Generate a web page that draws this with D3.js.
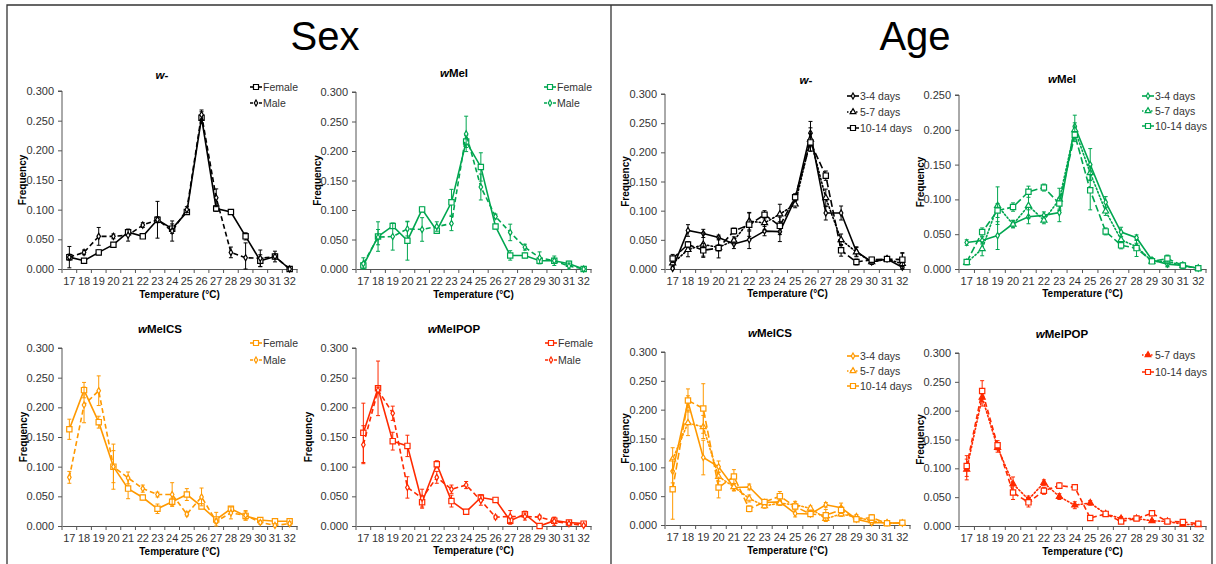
<!DOCTYPE html>
<html>
<head>
<meta charset="utf-8">
<script src="https://cdn.jsdelivr.net/npm/d3@7"></script>
<style>
  body { margin: 0; background: #fff; }
  svg { display: block; font-family: "Liberation Sans", Arial, sans-serif; }
</style>
</head>
<body>
<svg id="chart" width="1216" height="564"></svg>
<script>
// categories
const temps = [17, 18, 19, 20, 21, 22, 23, 24, 25, 26, 27, 28, 29, 30, 31, 32];

// Sex - w-
const sexWFemale = [0.020, 0.014, 0.028, 0.041, 0.062, 0.055, 0.083, 0.068, 0.096, 0.255, 0.102, 0.096, 0.055, 0.014, 0.021, 0.000];
const sexWFemaleErr = [0.018, 0.002, 0.004, 0.003, 0.005, 0.003, 0.031, 0.008, 0.004, 0.010, 0.005, 0.004, 0.006, 0.010, 0.004, 0];
const sexWMale = [0.020, 0.028, 0.055, 0.055, 0.057, 0.074, 0.083, 0.064, 0.100, 0.260, 0.120, 0.028, 0.019, 0.018, 0.021, 0.000];
const sexWMaleErr = [0.005, 0.004, 0.015, 0.004, 0.010, 0.004, 0.005, 0.017, 0.005, 0.008, 0.015, 0.009, 0.025, 0.014, 0.009, 0];

// Sex - wMel
const sexMelFemale = [0.006, 0.055, 0.073, 0.048, 0.101, 0.065, 0.113, 0.216, 0.173, 0.072, 0.023, 0.023, 0.014, 0.014, 0.009, 0.000];
const sexMelFemaleErr = [0.005, 0.025, 0.004, 0.033, 0.004, 0.004, 0.022, 0.010, 0.024, 0.004, 0.008, 0.004, 0.005, 0.004, 0.004, 0];
const sexMelMale = [0.009, 0.054, 0.055, 0.068, 0.067, 0.072, 0.077, 0.229, 0.139, 0.089, 0.062, 0.037, 0.019, 0.014, 0.005, 0.000];
const sexMelMaleErr = [0.010, 0.013, 0.023, 0.012, 0.020, 0.008, 0.012, 0.030, 0.022, 0.004, 0.014, 0.005, 0.010, 0.008, 0.005, 0];

// Sex - wMelCS
const sexCSFemale = [0.163, 0.229, 0.175, 0.100, 0.063, 0.048, 0.029, 0.041, 0.053, 0.033, 0.011, 0.029, 0.017, 0.010, 0.008, 0.008];
const sexCSFemaleErr = [0.017, 0.013, 0.010, 0.038, 0.017, 0.004, 0.008, 0.006, 0.010, 0.004, 0.012, 0.004, 0.007, 0.003, 0.003, 0.003];
const sexCSMale = [0.082, 0.204, 0.228, 0.100, 0.081, 0.063, 0.053, 0.053, 0.020, 0.049, 0.008, 0.022, 0.018, 0.006, 0.001, 0.004];
const sexCSMaleErr = [0.010, 0.030, 0.025, 0.027, 0.010, 0.006, 0.004, 0.020, 0.003, 0.015, 0.004, 0.010, 0.008, 0.003, 0.002, 0.003];

// Sex - wMelPOP
const sexPOPFemale = [0.157, 0.232, 0.143, 0.135, 0.040, 0.104, 0.042, 0.024, 0.048, 0.044, 0.009, 0.020, 0.000, 0.009, 0.006, 0.004];
const sexPOPFemaleErr = [0.050, 0.046, 0.015, 0.018, 0.010, 0.006, 0.010, 0.004, 0.005, 0.004, 0.006, 0.005, 0, 0.005, 0.003, 0.003];
const sexPOPMale = [0.137, 0.229, 0.190, 0.065, 0.047, 0.082, 0.062, 0.069, 0.043, 0.015, 0.016, 0.016, 0.015, 0.008, 0.004, 0.001];
const sexPOPMaleErr = [0.032, 0.005, 0.012, 0.018, 0.015, 0.010, 0.007, 0.006, 0.008, 0.003, 0.010, 0.006, 0.003, 0.007, 0.002, 0.001];

// Age - w-
const ageW34 = [0.001, 0.066, 0.061, 0.054, 0.043, 0.050, 0.065, 0.064, 0.120, 0.233, 0.096, 0.096, 0.030, 0.012, 0.017, 0.003];
const ageW34Err = [0.002, 0.010, 0.007, 0.004, 0.008, 0.015, 0.008, 0.017, 0.008, 0.020, 0.012, 0.012, 0.008, 0.004, 0.003, 0.003];
const ageW57 = [0.010, 0.033, 0.042, 0.037, 0.049, 0.082, 0.079, 0.094, 0.111, 0.222, 0.122, 0.050, 0.029, 0.012, 0.017, 0.009];
const ageW57Err = [0.005, 0.012, 0.020, 0.018, 0.006, 0.015, 0.012, 0.017, 0.006, 0.020, 0.015, 0.010, 0.008, 0.004, 0.003, 0.018];
const ageW1014 = [0.018, 0.042, 0.032, 0.036, 0.065, 0.076, 0.093, 0.074, 0.123, 0.217, 0.160, 0.032, 0.012, 0.016, 0.017, 0.016];
const ageW1014Err = [0.007, 0.005, 0.012, 0.005, 0.005, 0.020, 0.007, 0.015, 0.006, 0.015, 0.008, 0.010, 0.005, 0.004, 0.003, 0.012];

// Age - wMel
const ageMel34 = [0.038, 0.041, 0.048, 0.065, 0.075, 0.077, 0.081, 0.205, 0.150, 0.096, 0.053, 0.045, 0.013, 0.007, 0.005, 0.001];
const ageMel34Err = [0.004, 0.005, 0.020, 0.005, 0.010, 0.005, 0.013, 0.016, 0.023, 0.008, 0.007, 0.004, 0.003, 0.003, 0.003, 0.001];
const ageMel57 = [0.009, 0.029, 0.091, 0.064, 0.091, 0.070, 0.100, 0.200, 0.138, 0.083, 0.042, 0.032, 0.011, 0.011, 0.005, 0.001];
const ageMel57Err = [0.003, 0.010, 0.027, 0.005, 0.018, 0.005, 0.016, 0.010, 0.010, 0.006, 0.005, 0.005, 0.003, 0.008, 0.004, 0.001];
const ageMel1014 = [0.010, 0.053, 0.084, 0.089, 0.111, 0.117, 0.094, 0.193, 0.113, 0.054, 0.034, 0.030, 0.011, 0.015, 0.005, 0.001];
const ageMel1014Err = [0.003, 0.006, 0.010, 0.006, 0.008, 0.005, 0.008, 0.010, 0.028, 0.005, 0.005, 0.012, 0.003, 0.005, 0.003, 0.001];

// Age - wMelCS
const ageCS34 = [0.093, 0.214, 0.117, 0.101, 0.065, 0.066, 0.039, 0.040, 0.020, 0.019, 0.035, 0.030, 0.010, 0.004, 0.004, 0.003];
const ageCS34Err = [0.020, 0.010, 0.030, 0.010, 0.006, 0.005, 0.004, 0.005, 0.006, 0.004, 0.004, 0.008, 0.004, 0.003, 0.003, 0.002];
const ageCS57 = [0.114, 0.177, 0.170, 0.084, 0.066, 0.046, 0.033, 0.038, 0.035, 0.029, 0.011, 0.019, 0.014, 0.007, 0.003, 0.003];
const ageCS57Err = [0.020, 0.022, 0.020, 0.008, 0.006, 0.006, 0.004, 0.004, 0.006, 0.004, 0.005, 0.004, 0.004, 0.003, 0.003, 0.002];
const ageCS1014 = [0.062, 0.216, 0.202, 0.065, 0.084, 0.028, 0.040, 0.050, 0.032, 0.019, 0.017, 0.026, 0.010, 0.013, 0.003, 0.004];
const ageCS1014Err = [0.052, 0.020, 0.043, 0.018, 0.012, 0.005, 0.004, 0.008, 0.004, 0.004, 0.010, 0.006, 0.004, 0.005, 0.002, 0.002];

// Age - wMelPOP
const agePOP57 = [0.098, 0.223, 0.136, 0.073, 0.046, 0.075, 0.051, 0.036, 0.040, 0.021, 0.013, 0.013, 0.009, 0.008, 0.003, 0.002];
const agePOP57Err = [0.018, 0.015, 0.008, 0.012, 0.006, 0.005, 0.005, 0.006, 0.004, 0.003, 0.003, 0.003, 0.002, 0.002, 0.002, 0.001];
const agePOP1014 = [0.104, 0.234, 0.140, 0.058, 0.041, 0.061, 0.070, 0.067, 0.014, 0.021, 0.008, 0.013, 0.022, 0.008, 0.007, 0.004];
const agePOP1014Err = [0.018, 0.018, 0.008, 0.012, 0.008, 0.006, 0.005, 0.004, 0.003, 0.003, 0.003, 0.003, 0.003, 0.002, 0.002, 0.002];

const BLACK = "#000000", GREEN = "#00a650", ORANGE = "#ff9900", RED = "#ff2a00";

const STYLE = {
  solid: null,
  dashed: "5,3",
  dotted: "1.5,2.2",
  longdash: "7,3"
};

function sexSeries(color, f, fe, m, me) {
  return [
    { name: "Female", values: f, err: fe, color, dash: "solid", marker: "square" },
    { name: "Male", values: m, err: me, color, dash: "dashed", marker: "diamond" }
  ];
}

const panels = [
  { title: ["w", "-"], x0: 62, x1: 297, top: 91, bottom: 269, yMax: 0.3, titleX: 162, titleY: 79, ylabX: 22, legX: 250, legY: 87, legStep: 16, xTitleY: 298,
    series: sexSeries(BLACK, sexWFemale, sexWFemaleErr, sexWMale, sexWMaleErr) },
  { title: ["w", "Mel"], x0: 356, x1: 591, top: 92, bottom: 269, yMax: 0.3, titleX: 454, titleY: 77, ylabX: 317, legX: 544, legY: 87, legStep: 16, xTitleY: 298,
    series: sexSeries(GREEN, sexMelFemale, sexMelFemaleErr, sexMelMale, sexMelMaleErr) },
  { title: ["w", "MelCS"], x0: 62, x1: 297, top: 348, bottom: 526, yMax: 0.3, titleX: 160, titleY: 333, ylabX: 23, legX: 250, legY: 343, legStep: 17, xTitleY: 555,
    series: sexSeries(ORANGE, sexCSFemale, sexCSFemaleErr, sexCSMale, sexCSMaleErr) },
  { title: ["w", "MelPOP"], x0: 356, x1: 591, top: 348, bottom: 526, yMax: 0.3, titleX: 454, titleY: 333, ylabX: 308, legX: 545, legY: 343, legStep: 17, xTitleY: 554,
    series: sexSeries(RED, sexPOPFemale, sexPOPFemaleErr, sexPOPMale, sexPOPMaleErr) },
  { title: ["w", "-"], x0: 665, x1: 910, top: 94, bottom: 269, yMax: 0.3, titleX: 806, titleY: 84, ylabX: 625, legX: 847, legY: 96, legStep: 16, xTitleY: 297,
    series: [
      { name: "3-4 days", values: ageW34, err: ageW34Err, color: BLACK, dash: "solid", marker: "diamond" },
      { name: "5-7 days", values: ageW57, err: ageW57Err, color: BLACK, dash: "dotted", marker: "triangle" },
      { name: "10-14 days", values: ageW1014, err: ageW1014Err, color: BLACK, dash: "longdash", marker: "square" }
    ] },
  { title: ["w", "Mel"], x0: 959, x1: 1206, top: 95, bottom: 269, yMax: 0.25, titleX: 1062, titleY: 83, ylabX: 920, legX: 1142, legY: 96, legStep: 15, xTitleY: 297,
    series: [
      { name: "3-4 days", values: ageMel34, err: ageMel34Err, color: GREEN, dash: "solid", marker: "diamond" },
      { name: "5-7 days", values: ageMel57, err: ageMel57Err, color: GREEN, dash: "dotted", marker: "triangle" },
      { name: "10-14 days", values: ageMel1014, err: ageMel1014Err, color: GREEN, dash: "longdash", marker: "square" }
    ] },
  { title: ["w", "MelCS"], x0: 665, x1: 910, top: 352, bottom: 525, yMax: 0.3, titleX: 770, titleY: 337, ylabX: 625, legX: 847, legY: 356, legStep: 15, xTitleY: 554,
    series: [
      { name: "3-4 days", values: ageCS34, err: ageCS34Err, color: ORANGE, dash: "solid", marker: "diamond" },
      { name: "5-7 days", values: ageCS57, err: ageCS57Err, color: ORANGE, dash: "dotted", marker: "triangle" },
      { name: "10-14 days", values: ageCS1014, err: ageCS1014Err, color: ORANGE, dash: "longdash", marker: "square" }
    ] },
  { title: ["w", "MelPOP"], x0: 959, x1: 1206, top: 353, bottom: 526, yMax: 0.3, titleX: 1062, titleY: 338, ylabX: 920, legX: 1142, legY: 355, legStep: 17, xTitleY: 555,
    series: [
      { name: "5-7 days", values: agePOP57, err: agePOP57Err, color: RED, dash: "dotted", marker: "triangle", filled: true },
      { name: "10-14 days", values: agePOP1014, err: agePOP1014Err, color: RED, dash: "dashed", marker: "square" }
    ] }
];

const svg = d3.select("#chart");

// frame
const frame = svg.append("g").attr("stroke", "#333").attr("stroke-width", 1.3).attr("fill", "none");
frame.append("path").attr("d", "M7,564 V5 H1212 V564");
frame.append("line").attr("x1", 611).attr("x2", 611).attr("y1", 5).attr("y2", 564);

svg.append("text").attr("x", 325).attr("y", 50).attr("text-anchor", "middle")
  .attr("font-size", 40).text("Sex");
svg.append("text").attr("x", 915).attr("y", 50).attr("text-anchor", "middle")
  .attr("font-size", 40).text("Age");

const symbolType = { square: d3.symbolSquare, diamond: d3.symbolDiamond, triangle: d3.symbolTriangle };
const symbolSize = { square: 28, diamond: 11, triangle: 16 };

function drawMarker(g, s, x, y, scale = 1) {
  g.append("path")
    .attr("d", d3.symbol(symbolType[s.marker], symbolSize[s.marker] * scale)())
    .attr("transform", `translate(${x},${y})`)
    .attr("fill", s.filled ? s.color : "#fff")
    .attr("stroke", s.color)
    .attr("stroke-width", 1.2);
}

panels.forEach(p => {
  const g = svg.append("g");
  const x = d3.scaleBand().domain(temps).range([p.x0, p.x1]).padding(0);
  const y = d3.scaleLinear().domain([0, p.yMax]).range([p.bottom, p.top]);
  const cx = t => x(t) + x.bandwidth() / 2;

  // y axis
  const yAxis = g.append("g").attr("transform", `translate(${p.x0},0)`)
    .call(d3.axisLeft(y).tickValues(d3.range(0, p.yMax + 0.001, 0.05)).tickFormat(d3.format(".3f")).tickSize(4).tickPadding(4));
  yAxis.select(".domain").attr("d", `M-4,${p.top}H0V${p.bottom}`);

  // x axis, ticks between categories
  const xAxis = g.append("g").attr("transform", `translate(0,${p.bottom})`)
    .call(d3.axisBottom(x).tickSize(0).tickPadding(8));
  xAxis.selectAll(".tick text").attr("dy", "0.71em");
  temps.concat([null]).forEach(t => {
    const xx = t === null ? p.x1 : x(t);
    xAxis.append("line").attr("x1", xx).attr("x2", xx).attr("y1", 0).attr("y2", 4).attr("stroke", "#555");
  });
  [yAxis, xAxis].forEach(a => {
    a.selectAll(".domain").attr("stroke", "#555");
    a.selectAll(".tick line").attr("stroke", "#555");
    a.selectAll("text").attr("fill", "#333").attr("font-size", 11).attr("font-family", "Liberation Sans, Arial, sans-serif");
  });

  // titles
  const tt = g.append("text").attr("x", p.titleX).attr("y", p.titleY).attr("text-anchor", "middle")
    .attr("font-size", 11.5).attr("font-weight", "bold");
  tt.append("tspan").attr("font-style", "italic").text(p.title[0]);
  tt.append("tspan").text(p.title[1]);

  g.append("text").attr("transform", `translate(${p.ylabX},${(p.top + p.bottom) / 2}) rotate(-90)`)
    .attr("text-anchor", "middle").attr("dy", "0.35em").attr("font-size", 10).attr("font-weight", "bold")
    .text("Frequency");
  g.append("text").attr("x", (p.x0 + p.x1) / 2).attr("y", p.xTitleY).attr("text-anchor", "middle")
    .attr("font-size", 10).attr("font-weight", "bold").text("Temperature (°C)");

  // series
  p.series.forEach(s => {
    const pts = temps.map((t, i) => ({ t, v: s.values[i], e: s.err[i] }));
    const eg = g.append("g").attr("stroke", s.color).attr("stroke-width", 1);
    pts.filter(d => d.e > 0).forEach(d => {
      const yHi = y(d.v + d.e), yLo = y(Math.max(0, d.v - d.e));
      eg.append("line").attr("x1", cx(d.t)).attr("x2", cx(d.t)).attr("y1", yHi).attr("y2", yLo);
      eg.append("line").attr("x1", cx(d.t) - 2).attr("x2", cx(d.t) + 2).attr("y1", yHi).attr("y2", yHi);
      eg.append("line").attr("x1", cx(d.t) - 2).attr("x2", cx(d.t) + 2).attr("y1", yLo).attr("y2", yLo);
    });
    g.append("path").datum(pts)
      .attr("fill", "none").attr("stroke", s.color).attr("stroke-width", 1.6)
      .attr("stroke-dasharray", STYLE[s.dash])
      .attr("stroke-linecap", s.dash === "dotted" ? "round" : "butt")
      .attr("d", d3.line().x(d => cx(d.t)).y(d => y(d.v)));
    const mg = g.append("g");
    pts.forEach(d => drawMarker(mg, s, cx(d.t), y(d.v)));
  });

  // legend
  p.series.forEach((s, i) => {
    const ly = p.legY + i * p.legStep;
    const lg = g.append("g");
    lg.append("line").attr("x1", p.legX).attr("x2", p.legX + 12).attr("y1", ly).attr("y2", ly)
      .attr("stroke", s.color).attr("stroke-width", 1.6).attr("stroke-dasharray", s.dash === "solid" ? null : (s.dash === "dotted" ? "1.5,1.5" : "3,1.5"));
    drawMarker(lg, s, p.legX + 6, ly, 0.9);
    lg.append("text").attr("x", p.legX + 13).attr("y", ly).attr("dy", "0.35em")
      .attr("font-size", 10.5).attr("fill", "#333").text(s.name);
  });
});
</script>
</body>
</html>
